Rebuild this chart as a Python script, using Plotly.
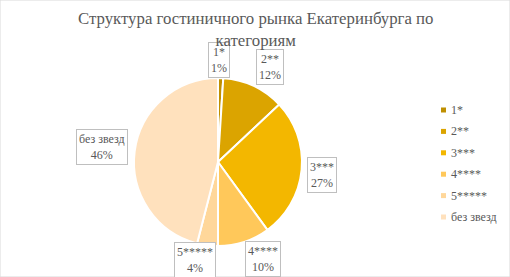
import math
import plotly.graph_objects as go

categories = ["1*", "2**", "3***", "4****", "5*****", "без звезд"]
values = [1, 12, 27, 10, 4, 46]
colors = ["#BF8F00", "#DBA400", "#F3B700", "#FFC85A", "#FFD79A", "#FFE1BD"]
title_text = "Структура гостиничного рынка Екатеринбурга по<br>категориям"

W, H = 510, 277
cx, cy, R = 218, 162, 84  # pie center/radius in pixels
label_r = [1.21, 1.29, 1.25, 1.28, 1.2, 1.39]
label_da = [-1.3, 3.5, 1.6, -7, 6, 0]  # small angular nudges (degrees)
FONT = "Liberation Serif, Times New Roman, serif"

fig = go.Figure(go.Pie(
    labels=categories, values=values, sort=False, direction="clockwise", rotation=0,
    marker=dict(colors=colors, line=dict(color="white", width=2)),
    textinfo="none", hoverinfo="label+percent", showlegend=False,
    domain=dict(x=[(cx - R) / W, (cx + R) / W], y=[(H - cy - R) / H, (H - cy + R) / H]),
))

font_c = "#595959"
total = sum(values)
cum = 0
annotations = []
shapes = []
for i, (lab, v) in enumerate(zip(categories, values)):
    mid = (cum + v / 2) / total * 2 * math.pi + math.radians(label_da[i])
    cum += v
    px = cx + label_r[i] * R * math.sin(mid)
    py = cy - label_r[i] * R * math.cos(mid)
    annotations.append(dict(
        x=px / W, y=1 - py / H, xref="paper", yref="paper", xanchor="center", yanchor="middle",
        text=f"{lab}<br>{round(v / total * 100)}%", showarrow=False,
        font=dict(family=FONT, size=12, color=font_c),
        bordercolor="#BFBFBF", borderwidth=1, bgcolor="white", borderpad=2,
        align="center",
    ))
    # legend entry
    ly = 110 + 21.4 * i
    shapes.append(dict(type="rect", xref="paper", yref="paper",
                       x0=441 / W, x1=446 / W, y0=1 - (ly + 2.5) / H, y1=1 - (ly - 2.5) / H,
                       fillcolor=colors[i], line=dict(width=0)))
    annotations.append(dict(
        x=449 / W, y=1 - ly / H, xref="paper", yref="paper", xanchor="left", yanchor="middle",
        text=lab, showarrow=False,
        font=dict(family=FONT, size=12, color=font_c),
    ))

annotations.append(dict(
    x=0.5, y=1 - 30 / H, xref="paper", yref="paper", xanchor="center", yanchor="middle",
    text=title_text, showarrow=False,
    font=dict(family=FONT, size=16.8, color=font_c),
))

shapes.append(dict(type="rect", xref="paper", yref="paper", x0=0, y0=0, x1=1, y1=1,
                   line=dict(color="#D9D9D9", width=1)))

fig.update_layout(
    width=W, height=H, margin=dict(l=0, r=0, t=0, b=0),
    paper_bgcolor="white", plot_bgcolor="white",
    showlegend=False,
    annotations=annotations,
    shapes=shapes,
)

fig.write_html("out.html", config={"displayModeBar": False},
               post_script="document.body.style.margin='0';document.body.style.overflow='hidden';")
